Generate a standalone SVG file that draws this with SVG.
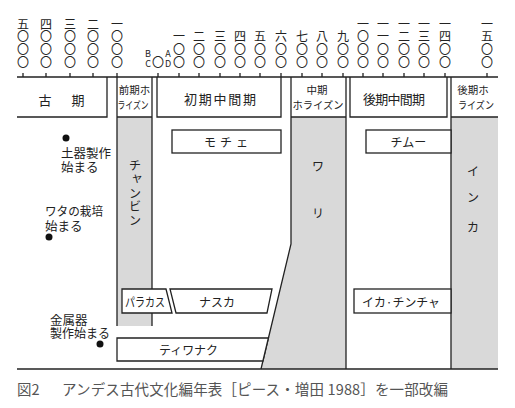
<svg xmlns="http://www.w3.org/2000/svg" width="515" height="408" viewBox="0 0 515 408">
<style>
text{font-family:"Noto Sans CJK JP","Noto Sans",sans-serif;fill:#222;dominant-baseline:central;text-anchor:middle}
.n{font-size:12px}
.s{font-size:9px}
.h{font-size:13px}
.hs{font-size:10.5px}
.b{font-size:12px}
.a{font-size:12.5px;text-anchor:start}
.ln{stroke:#222;stroke-width:1.3;fill:none}
.box{stroke:#222;stroke-width:1.3;fill:#fff}
.g{fill:#d9d9d9;stroke:none}
.cap{font-size:14.5px;fill:#555;text-anchor:start}
</style>
<rect width="515" height="408" fill="#fff"/>

<g id="scale">
<g class="n">
<text x="23" y="23"><tspan x="23" y="23">五</tspan><tspan x="23" y="35">〇</tspan><tspan x="23" y="48">〇</tspan><tspan x="23" y="61">〇</tspan></text>
<text x="46" y="23"><tspan x="46" y="23">四</tspan><tspan x="46" y="35">〇</tspan><tspan x="46" y="48">〇</tspan><tspan x="46" y="61">〇</tspan></text>
<text x="70" y="23"><tspan x="70" y="23">三</tspan><tspan x="70" y="35">〇</tspan><tspan x="70" y="48">〇</tspan><tspan x="70" y="61">〇</tspan></text>
<text x="93" y="23"><tspan x="93" y="23">二</tspan><tspan x="93" y="35">〇</tspan><tspan x="93" y="48">〇</tspan><tspan x="93" y="61">〇</tspan></text>
<text x="117" y="23"><tspan x="117" y="23">一</tspan><tspan x="117" y="35">〇</tspan><tspan x="117" y="48">〇</tspan><tspan x="117" y="61">〇</tspan></text>
<text x="158" y="61">〇</text>
<text x="179" y="35"><tspan x="179" y="35">一</tspan><tspan x="179" y="48">〇</tspan><tspan x="179" y="61">〇</tspan></text>
<text x="199" y="35"><tspan x="199" y="35">二</tspan><tspan x="199" y="48">〇</tspan><tspan x="199" y="61">〇</tspan></text>
<text x="220" y="35"><tspan x="220" y="35">三</tspan><tspan x="220" y="48">〇</tspan><tspan x="220" y="61">〇</tspan></text>
<text x="240" y="35"><tspan x="240" y="35">四</tspan><tspan x="240" y="48">〇</tspan><tspan x="240" y="61">〇</tspan></text>
<text x="260" y="35"><tspan x="260" y="35">五</tspan><tspan x="260" y="48">〇</tspan><tspan x="260" y="61">〇</tspan></text>
<text x="281" y="35"><tspan x="281" y="35">六</tspan><tspan x="281" y="48">〇</tspan><tspan x="281" y="61">〇</tspan></text>
<text x="302" y="35"><tspan x="302" y="35">七</tspan><tspan x="302" y="48">〇</tspan><tspan x="302" y="61">〇</tspan></text>
<text x="322" y="35"><tspan x="322" y="35">八</tspan><tspan x="322" y="48">〇</tspan><tspan x="322" y="61">〇</tspan></text>
<text x="343" y="35"><tspan x="343" y="35">九</tspan><tspan x="343" y="48">〇</tspan><tspan x="343" y="61">〇</tspan></text>
<text x="363" y="23"><tspan x="363" y="23">一</tspan><tspan x="363" y="35">〇</tspan><tspan x="363" y="48">〇</tspan><tspan x="363" y="61">〇</tspan></text>
<text x="383" y="23"><tspan x="383" y="23">一</tspan><tspan x="383" y="35">一</tspan><tspan x="383" y="48">〇</tspan><tspan x="383" y="61">〇</tspan></text>
<text x="404" y="23"><tspan x="404" y="23">一</tspan><tspan x="404" y="35">二</tspan><tspan x="404" y="48">〇</tspan><tspan x="404" y="61">〇</tspan></text>
<text x="424" y="23"><tspan x="424" y="23">一</tspan><tspan x="424" y="35">三</tspan><tspan x="424" y="48">〇</tspan><tspan x="424" y="61">〇</tspan></text>
<text x="445" y="23"><tspan x="445" y="23">一</tspan><tspan x="445" y="35">四</tspan><tspan x="445" y="48">〇</tspan><tspan x="445" y="61">〇</tspan></text>
<text x="487" y="23"><tspan x="487" y="23">一</tspan><tspan x="487" y="35">五</tspan><tspan x="487" y="48">〇</tspan><tspan x="487" y="61">〇</tspan></text>
</g>
<g class="s">
<text x="148" y="53"><tspan x="148" y="53">B</tspan><tspan x="148" y="63">C</tspan></text>
<text x="168" y="53"><tspan x="168" y="53">A</tspan><tspan x="168" y="63">D</tspan></text>
</g>
<path class="ln" d="M17 77H498M23 73V77M46 73V77M70 73V77M93 73V77M117 73V77M158 73V77M179 73V77M199 73V77M220 73V77M240 73V77M260 73V77M281 73V77M302 73V77M322 73V77M343 73V77M363 73V77M383 73V77M404 73V77M424 73V77M445 73V77M487 73V77"/>
</g>

<g id="bands">
<rect class="g" x="117" y="117" width="35" height="209"/>
<polygon class="g" points="291,117 346,117 346,369 261,369 291,244"/>
<rect class="g" x="451" y="117" width="47" height="252"/>
</g>

<g id="connectors">
<path class="ln" d="M17 117H107V77"/>
<path class="ln" d="M117 77V326M152 77V326M117 117H152"/>
<path class="ln" d="M157 77V117H281V77"/>
<path class="ln" d="M291 77V244L261 369M346 77V369M291 117H346"/>
<path class="ln" d="M350 77V117H447V77"/>
<path class="ln" d="M451 77V369M451 117H498"/>
<path class="ln" d="M17 369H498"/>
</g>

<g id="kokin">
<text class="h" x="61.5" y="99">古<tspan dx="20">期</tspan></text>
</g>
<g id="zenki-horizon">
<text class="hs" x="134.5" y="89"><tspan x="134.5" y="89">前期ホ</tspan><tspan x="133" y="104" textLength="31" lengthAdjust="spacingAndGlyphs">ライズン</tspan></text>
</g>
<g id="shoki-chukan">
<text class="h" x="220" y="98" textLength="72" lengthAdjust="spacing">初期中間期</text>
</g>
<g id="chuki-horizon">
<text class="hs" x="317" y="89"><tspan x="317" y="89">中期</tspan><tspan x="318" y="104" textLength="51" lengthAdjust="spacingAndGlyphs">ホライズン</tspan></text>
</g>
<g id="koki-chukan">
<text class="h" x="394" y="98" textLength="62" lengthAdjust="spacing">後期中間期</text>
</g>
<g id="koki-horizon">
<text class="hs" x="473" y="89"><tspan x="473" y="89">後期ホ</tspan><tspan x="476" y="104" textLength="36" lengthAdjust="spacingAndGlyphs">ライズン</tspan></text>
</g>

<g id="chavin" class="b">
<text x="135" y="164"><tspan x="135" y="164">チ</tspan><tspan x="137" y="176">ャ</tspan><tspan x="135" y="192">ン</tspan><tspan x="135" y="205">ビ</tspan><tspan x="135" y="219">ン</tspan></text>
</g>
<g id="wari" class="b">
<text x="318" y="165"><tspan x="318" y="165">ワ</tspan><tspan x="318" y="212">リ</tspan></text>
</g>
<g id="inca" class="b">
<text x="473" y="170"><tspan x="473" y="170">イ</tspan><tspan x="473" y="196">ン</tspan><tspan x="473" y="226">カ</tspan></text>
</g>

<g id="moche">
<rect class="box" x="172" y="130" width="109" height="23"/>
<text class="b" x="226" y="141.5" textLength="44" lengthAdjust="spacing">モチェ</text>
</g>
<g id="chimu">
<rect class="box" x="366" y="130" width="85" height="23"/>
<text class="b" x="408.5" y="141.5">チムー</text>
</g>
<g id="paracas">
<polygon class="box" points="122,289 166,289 172,313 122,313"/>
<text class="b" x="145" y="301" textLength="40" lengthAdjust="spacingAndGlyphs">パラカス</text>
</g>
<g id="nazca">
<polygon class="box" points="170,289 272,289 267,313 176,313"/>
<text class="b" x="217" y="301">ナスカ</text>
</g>
<g id="tiwanaku">
<polygon class="box" points="117,338 268.4,338 262.9,361 117,361"/>
<text class="b" x="188.5" y="349.5" textLength="59" lengthAdjust="spacingAndGlyphs">ティワナク</text>
</g>
<g id="ica-chincha">
<rect class="box" x="354" y="289" width="97" height="24"/>
<text class="b" x="401" y="301" textLength="78" lengthAdjust="spacingAndGlyphs">イカ·チンチャ</text>
</g>

<g id="pottery">
<circle cx="66" cy="138" r="3.5" fill="#111"/>
<text class="a" x="61" y="152"><tspan x="61" y="152">土器製作</tspan><tspan x="61" y="166">始まる</tspan></text>
</g>
<g id="cotton">
<text class="a" x="45" y="210"><tspan x="45" y="210" textLength="58" lengthAdjust="spacingAndGlyphs">ワタの栽培</tspan><tspan x="45" y="225">始まる</tspan></text>
<circle cx="49" cy="237" r="3.5" fill="#111"/>
</g>
<g id="metal">
<text class="a" x="50" y="319"><tspan x="50" y="319">金属器</tspan><tspan x="50" y="332" textLength="60" lengthAdjust="spacingAndGlyphs">製作始まる</tspan></text>
<circle cx="100" cy="344" r="3.5" fill="#111"/>
</g>

<g id="caption">
<text class="cap" x="17" y="388">図2<tspan x="62" textLength="386" lengthAdjust="spacing">アンデス古代文化編年表［ピース・増田 1988］を一部改編</tspan></text>
</g>
</svg>
